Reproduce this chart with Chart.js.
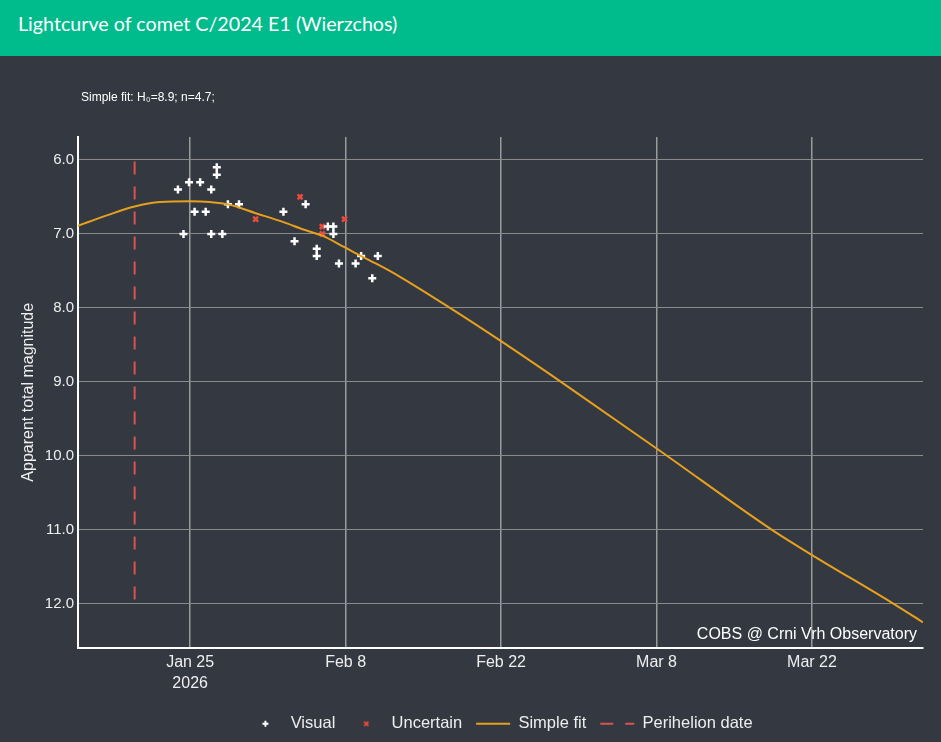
<!DOCTYPE html>
<html>
<head>
<meta charset="utf-8">
<title>Lightcurve of comet C/2024 E1 (Wierzchos)</title>
<script src="https://cdn.jsdelivr.net/npm/chart.js@4.4.1/dist/chart.umd.min.js"></script>
<style>
  body { margin: 0; background: #343840; width: 941px; height: 742px; overflow: hidden; }
  .header { height: 56px; background: #00bc8c; color: #fff; font-family: Lato, sans-serif; font-size: 19.7px; position: relative; }
  .header span { position: absolute; left: 18px; top: 12px; line-height: 24px; }
  .wrap { position: relative; width: 941px; height: 686px; }
  .fitnote { position: absolute; left: 81px; top: 34px; font: 12px "Liberation Sans", Arial, sans-serif; color: #fff; }
  .credit { position: absolute; right: 24px; top: 569px; font: 16px "Liberation Sans", Arial, sans-serif; color: #fff; }
</style>
</head>
<body>
<div class="header"><span>Lightcurve of comet C/2024 E1 (Wierzchos)</span></div>
<div class="wrap">
  <canvas id="myChart" width="941" height="686"></canvas>
  <div class="fitnote">Simple fit: H₀=8.9; n=4.7;</div>
  <div class="credit">COBS @ Crni Vrh Observatory</div>
</div>
<script>
// dni = deň v roku 2026 (1 = 1. jan)
const visualDays = [23.9, 24.9, 25.9, 26.9, 27.4, 27.4, 25.4, 26.4, 28.4, 29.4, 24.4, 26.9, 27.9,
                    33.4, 35.4, 34.4, 36.4, 36.4, 37.4, 37.9, 37.9, 38.4, 39.9, 40.4, 41.9, 41.4];
const visualMags = [6.4, 6.3, 6.3, 6.4, 6.1, 6.2, 6.7, 6.7, 6.6, 6.6, 7.0, 7.0, 7.0,
                    6.7, 6.6, 7.1, 7.2, 7.3, 6.9, 6.9, 7.0, 7.4, 7.4, 7.3, 7.3, 7.6];

const uncertainDays = [30.9, 34.9, 36.9, 36.9, 38.9];
const uncertainMags = [6.8, 6.5, 6.9, 7.0, 6.8];

// krivka jednoduchého fitu odčítaná z grafu
const fitDays = [14.9, 17.5, 20.0, 22.3, 25.0, 26.8, 28.4, 30.9, 33.4, 35.2, 37.0, 38.9, 40.4,
                 42.1, 43.9, 48.4, 53.0, 58.3, 67.3, 77.4, 80.9, 88.25, 91.0];
const fitMags = [6.89, 6.75, 6.63, 6.57, 6.56, 6.57, 6.60, 6.72, 6.84, 6.94, 7.03, 7.18, 7.30,
                 7.43, 7.58, 8.00, 8.45, 8.99, 9.93, 11.00, 11.33, 11.99, 12.25];

const perihelionDay = 20.0;
const perihelionMags = [6.02, 12.07];

const tickDays = [25, 39, 53, 67, 81];
const tickLabels = [['Jan 25', '2026'], 'Feb 8', 'Feb 22', 'Mar 8', 'Mar 22'];
const magTicks = [6, 7, 8, 9, 10, 11, 12];

const toPoints = (xs, ys) => xs.map((x, i) => ({ x: x, y: ys[i] }));

const textColor = '#eeeeee';
const fontName = '"Liberation Sans", Arial, sans-serif';

// malé ikonky do legendy (krížik a x), aby sa neroztiahli na šírku čiary
function legendIcon(color, rotated) {
    const c = document.createElement('canvas');
    c.width = 8; c.height = 8;
    const g = c.getContext('2d');
    g.strokeStyle = color;
    g.lineWidth = 2;
    g.translate(4, 4);
    if (rotated) g.rotate(Math.PI / 4);
    g.beginPath();
    g.moveTo(-3, 0); g.lineTo(3, 0);
    g.moveTo(0, -3); g.lineTo(0, 3);
    g.stroke();
    return c;
}

const ctx = document.getElementById('myChart').getContext('2d');

new Chart(ctx, {
    type: 'scatter',
    data: {
        datasets: [
            {
                label: 'Visual',
                data: toPoints(visualDays, visualMags),
                pointStyle: 'cross', pointRadius: 4, pointBorderWidth: 2.5,
                borderColor: '#ffffff', backgroundColor: '#ffffff', borderWidth: 2.5,
                legendIcon: legendIcon('#ffffff', false),
                order: 2
            },
            {
                label: 'Uncertain',
                data: toPoints(uncertainDays, uncertainMags),
                pointStyle: 'crossRot', pointRadius: 3.5, pointBorderWidth: 2.5,
                borderColor: '#e74c3c', backgroundColor: '#e74c3c', borderWidth: 2.5,
                legendIcon: legendIcon('#e74c3c', true),
                order: 3
            },
            {
                label: 'Simple fit',
                data: toPoints(fitDays, fitMags),
                showLine: true, pointRadius: 0, borderWidth: 2,
                borderColor: '#e6a01e', backgroundColor: '#e6a01e',
                cubicInterpolationMode: 'monotone',
                order: 0
            },
            {
                label: 'Perihelion date',
                data: perihelionMags.map(m => ({ x: perihelionDay, y: m })),
                showLine: true, pointRadius: 0, borderWidth: 2,
                borderColor: '#d9534f', backgroundColor: '#d9534f',
                borderDash: [13, 12],
                order: 1
            }
        ]
    },
    options: {
        responsive: false,
        animation: false,
        events: [],
        layout: { padding: { top: 81, right: 18, left: 0, bottom: 0 } },
        plugins: {
            tooltip: { enabled: false },
            legend: {
                position: 'bottom',
                fullSize: false,
                labels: {
                    color: textColor,
                    font: { family: fontName, size: 16.5 },
                    usePointStyle: true,
                    pointStyleWidth: 34,
                    boxHeight: 5,
                    padding: 14,
                    generateLabels: chart => chart.data.datasets.map((ds, i) => ({
                        text: ds.label,
                        fillStyle: ds.backgroundColor,
                        strokeStyle: ds.borderColor,
                        fontColor: textColor,
                        lineWidth: 2,
                        lineDash: ds.borderDash || [],
                        pointStyle: ds.showLine ? 'line' : ds.legendIcon,
                        datasetIndex: i
                    }))
                }
            }
        },
        scales: {
            x: {
                type: 'linear',
                min: 14.9,
                max: 91.0,
                afterBuildTicks: scale => { scale.ticks = tickDays.map(v => ({ value: v })); },
                afterFit: scale => { scale.height = 54; },
                ticks: {
                    color: textColor,
                    font: { family: fontName, size: 16, lineHeight: 1.3 },
                    padding: 5,
                    maxRotation: 0,
                    callback: value => tickLabels[tickDays.indexOf(value)]
                },
                grid: { color: '#9a9a9a', lineWidth: 1.5, drawTicks: false },
                border: { color: '#ffffff', width: 2 }
            },
            y: {
                type: 'linear',
                reverse: true,
                min: 5.69,
                max: 12.59,
                afterBuildTicks: scale => { scale.ticks = magTicks.map(v => ({ value: v })); },
                afterFit: scale => { scale.width = 78; },
                ticks: {
                    color: textColor,
                    font: { family: fontName, size: 15 },
                    padding: 4,
                    callback: value => value.toFixed(1)
                },
                grid: { color: '#8a8a8a', lineWidth: 1, drawTicks: false },
                border: { color: '#ffffff', width: 2 },
                title: {
                    display: true,
                    text: 'Apparent total magnitude',
                    color: textColor,
                    font: { family: fontName, size: 16 },
                    padding: { top: 19, bottom: 0 }
                }
            }
        }
    }
});
</script>
</body>
</html>
